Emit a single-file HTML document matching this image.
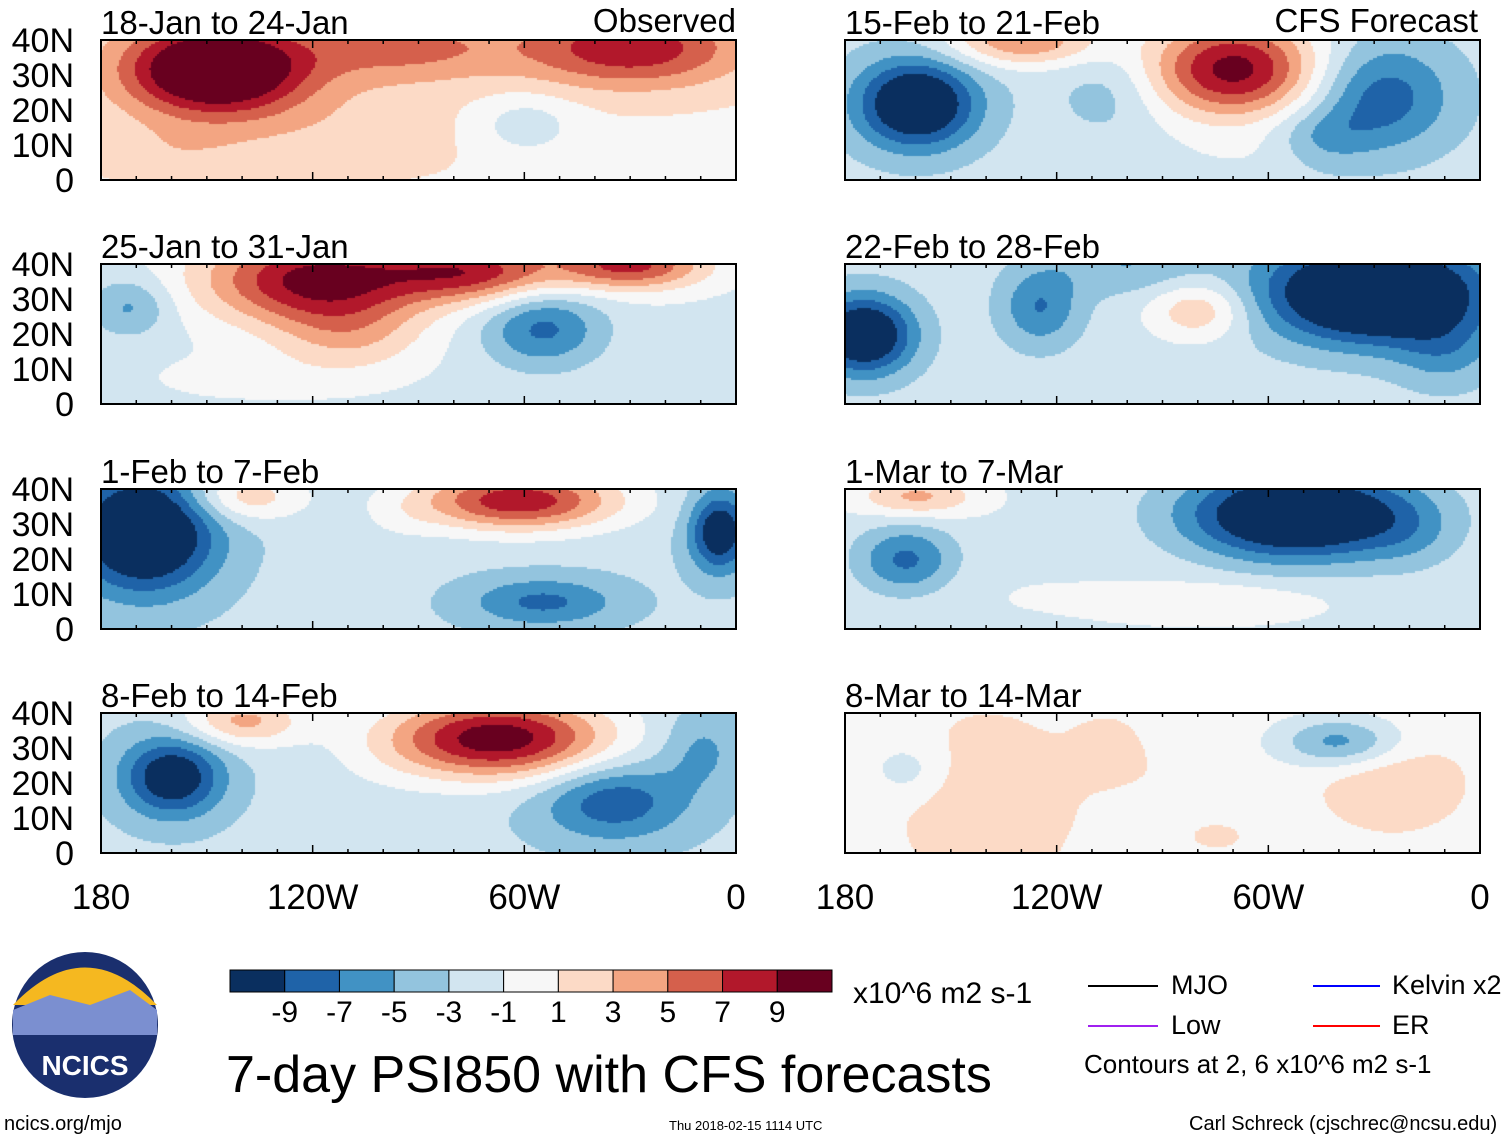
<!DOCTYPE html>
<html><head><meta charset="utf-8"><style>
body{margin:0;background:#fff;width:1510px;height:1141px;position:relative;overflow:hidden;font-family:"Liberation Sans",sans-serif;}
.t{position:absolute;white-space:nowrap;color:#000;}
canvas{position:absolute;}
</style></head><body>
<svg id="svg" width="1510" height="1141" style="position:absolute;left:0;top:0;font-family:'Liberation Sans',sans-serif"></svg>
<script>
const levels=[-9,-7,-5,-3,-1,1,3,5,7,9];
const colors=["#0a2f5f","#1f63a8","#4192c4","#93c4de","#d2e5f0","#f7f7f7","#fcdac6","#f3a582","#d5604c","#b2182b","#68001f"];
const lonTicks=[180,120,60,0];
const lonLabels=["180","120W","60W","0"];
const latLabels=["40N","30N","20N","10N","0"];
const titles=["18-Jan to 24-Jan","15-Feb to 21-Feb","25-Jan to 31-Jan","22-Feb to 28-Feb","1-Feb to 7-Feb","1-Mar to 7-Mar","8-Feb to 14-Feb","8-Mar to 14-Mar"];
const bases=[0.6,-2.2,-1.5,-2,-2.5,-1.5,-2.5,0];
// blobs: [lon, lat, amplitude, sigmaLon, sigmaLat]
const blobs=[
 [[-148,32,14,18,9],[-95,38,5,22,7],[-30,38,8,22,8],[-115,15,1.5,30,10],[-60,16,-3,10,6],[-160,8,1.5,15,6]],
 [[-160,22,-11,12,9],[-70,32,12,17,10],[-130,40,7,15,5],[-28,24,-6,14,11],[-45,12,-3,10,6],[-105,25,-2,10,8],[-60,8,1,20,5]],
 [[-120,36,11,22,9],[-75,38,9,18,6],[-110,20,4,15,8],[-172,28,-4,8,6],[-55,22,-6,12,8],[-30,40,9,15,5],[-140,8,1,20,5]],
 [[-175,20,-11,10,8],[-30,32,-14,22,10],[-125,28,-5,8,8],[-80,27,5,10,6],[-100,40,-3,15,6],[-10,15,-3,10,8]],
 [[-168,28,-12,14,12],[-62,37,11,20,6],[-140,38,5,12,5],[-5,28,-9,6,8],[-55,8,-5,15,5],[-110,15,1,10,6],[-95,32,1,8,5]],
 [[-52,33,-13,22,9],[-163,20,-6,10,7],[-160,38,5,12,4],[-75,8,2.5,20,4],[-130,10,0.5,30,8],[-20,28,-2,10,8]],
 [[-68,33,13,22,8],[-140,38,6,12,5],[-160,22,-9,10,8],[-35,15,-6,15,8],[-100,25,0.5,12,8],[-10,30,-3,8,8]],
 [[-140,15,2.6,18,18],[-105,30,1.5,8,8],[-40,32,-6,12,5],[-162,24,-2.5,8,6],[-25,20,2.6,15,10],[-75,5,1.2,10,5],[-90,22,0.5,8,6]]
];
const panelX=[101,845];const panelY=[40,264,489,713];const PW=635,PH=140;
function xOf(px,lon){return px+(lon+180)/180*PW;}
function yOf(py,lat){return py+PH-lat/40*PH;}
function colorFor(v){let i=0;while(i<levels.length&&v>levels[i])i++;return colors[i];}
const svg=document.getElementById('svg');
const NS="http://www.w3.org/2000/svg";
function mk(tag,attrs,name){const e=document.createElementNS(NS,tag);for(const k in attrs)e.setAttribute(k,attrs[k]);


svg.appendChild(e);return e;}
for(let p=0;p<8;p++){
 const px=panelX[p%2],py=panelY[Math.floor(p/2)];
 const c=document.createElement('canvas');c.width=PW;c.height=PH;c.style.left=px+'px';c.style.top=py+'px';
 
 
 document.body.insertBefore(c,svg);
 const ctx=c.getContext('2d');
 for(let y=0;y<PH;y+=2)for(let x=0;x<PW;x+=2){
  const lon=-180+x/PW*180,lat=40-y/PH*40;let v=bases[p];
  for(const b of blobs[p]){const dx=(lon-b[0])/b[3],dy=(lat-b[1])/b[4];v+=b[2]*Math.exp(-0.5*(dx*dx+dy*dy));}
  ctx.fillStyle=colorFor(v);ctx.fillRect(x,y,2,2);
 }
 mk('rect',{x:px,y:py,width:PW,height:PH,fill:'none',stroke:'#000','stroke-width':2},'panel-frame');
 for(let l=-180;l<=0;l+=10){const x=xOf(px,l);const len=(l%60==0)?8:4;
  mk('line',{x1:x,y1:py+PH,x2:x,y2:py+PH-len,stroke:'#000','stroke-width':1.5},'tick');
  mk('line',{x1:x,y1:py,x2:x,y2:py+len,stroke:'#000','stroke-width':1.5},'tick');}
 const t=mk('text',{x:px,y:py-6,'font-size':33},'panel-title');t.textContent=titles[p];
 if(p%2==0){latLabels.forEach((s,i)=>{const tt=mk('text',{x:px-27,y:py+i*35+12,'font-size':34,'text-anchor':'end'},'lat-label');tt.textContent=s;});}
}
[["Observed",736,32],["CFS Forecast",1478,32]].forEach(a=>{const t=mk('text',{x:a[1],y:a[2],'font-size':33,'text-anchor':'end'},'panel-tag');t.textContent=a[0];});
panelX.forEach(px=>{lonTicks.forEach((l,i)=>{const t=mk('text',{x:xOf(px,-l),y:909,'font-size':35,'text-anchor':'middle'},'lon-label');t.textContent=lonLabels[i];});});
const cbx=230,cbw=602/11;
colors.forEach((c,i)=>{mk('rect',{x:cbx+i*cbw,y:970,width:cbw,height:22,fill:c,stroke:'#000','stroke-width':1},'colorbar-box');});
levels.forEach((l,i)=>{const t=mk('text',{x:cbx+(i+1)*cbw,y:1022,'font-size':30,'text-anchor':'middle'},'colorbar-label');t.textContent=l;});
</script>
<div class="t" style="left:853px;top:977px;font-size:30px">x10^6 m2 s-1</div>
<svg width="1510" height="1141" style="position:absolute;left:0;top:0">
<line x1="1088" y1="986" x2="1158" y2="986" stroke="#000" stroke-width="2"/>
<line x1="1088" y1="1026" x2="1158" y2="1026" stroke="#a020f0" stroke-width="2"/>
<line x1="1313" y1="986" x2="1380" y2="986" stroke="#0000ff" stroke-width="2"/>
<line x1="1313" y1="1026" x2="1380" y2="1026" stroke="#ff0000" stroke-width="2"/>
<circle cx="85" cy="1025" r="73" fill="#1a2f6e"/>
<path d="M13 1005 Q85 930 157 1005 Z" fill="#f5b820"/>
<path d="M13 1010 L50 995 L90 1005 L130 990 L157 1010 L157 1035 L13 1035 Z" fill="#7b8fd0"/>
<text x="85" y="1075" font-size="28" font-weight="bold" fill="#fff" text-anchor="middle" font-family="Liberation Sans">NCICS</text>
</svg>
<div class="t" style="left:1171px;top:970px;font-size:27px">MJO</div>
<div class="t" style="left:1171px;top:1010px;font-size:27px">Low</div>
<div class="t" style="left:1392px;top:970px;font-size:27px">Kelvin x2</div>
<div class="t" style="left:1392px;top:1010px;font-size:27px">ER</div>
<div class="t" style="left:1084px;top:1049px;font-size:26px">Contours at 2, 6 x10^6 m2 s-1</div>
<div class="t" style="left:226px;top:1045px;font-size:52px">7-day PSI850 with CFS forecasts</div>
<div class="t" style="left:4px;top:1113px;font-size:20px">ncics.org/mjo</div>
<div class="t" style="left:669px;top:1118px;font-size:13px">Thu 2018-02-15 1114 UTC</div>
<div class="t" style="left:1189px;top:1113px;font-size:20px">Carl Schreck (cjschrec@ncsu.edu)</div>
</body></html>
